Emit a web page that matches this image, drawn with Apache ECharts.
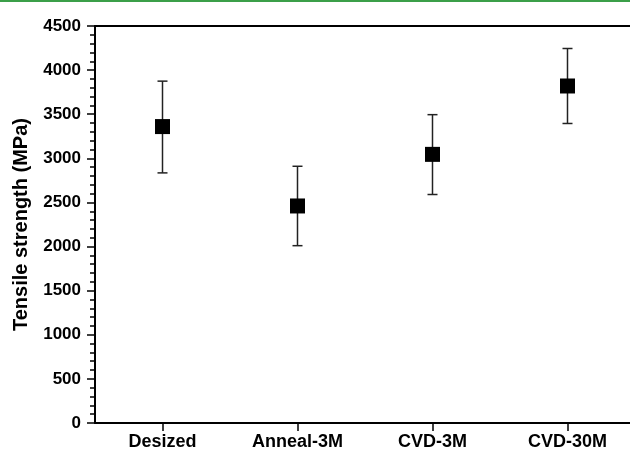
<!DOCTYPE html>
<html>
<head>
<meta charset="utf-8">
<script src="https://cdn.jsdelivr.net/npm/echarts@6/dist/echarts.min.js"></script>
<style>
html,body{margin:0;padding:0;background:#fff;}
#main{width:630px;height:451px;}
</style>
</head>
<body>
<div id="main"></div>
<script>
// 拉伸强度数据
var categories = ['Desized', 'Anneal-3M', 'CVD-3M', 'CVD-30M'];
var means = [3360, 2460, 3045, 3820];
var upper = [3875, 2910, 3495, 4245];
var lower = [2835, 2010, 2590, 3395];
var yTicks = [0, 500, 1000, 1500, 2000, 2500, 3000, 3500, 4000, 4500];

var pos = categories.map(function (c, i) { return i + 1; });
var pointData = pos.map(function (x, i) { return [x, means[i]]; });
var errData = pos.map(function (x, i) { return [x, lower[i], upper[i]]; });

var font = 'Liberation Sans, Arial, sans-serif';
var chart = echarts.init(document.getElementById('main'));
var option = {
    animation: false,
    graphic: [{
        type: 'rect',
        shape: { x: 0, y: 0, width: 630, height: 2 },
        style: { fill: '#3b9f49' }
    }],
    grid: {
        left: 95,
        right: 0,
        top: 26,
        bottom: 28
    },
    xAxis: [{
        type: 'value',
        min: 0.5,
        max: 4.463,
        splitLine: { show: false },
        axisLine: { lineStyle: { color: '#000', width: 2 } },
        axisTick: {
            customValues: pos,
            length: 8,
            lineStyle: { color: '#000', width: 1.5 }
        },
        axisLabel: {
            customValues: pos,
            margin: 10,
            color: '#000',
            fontFamily: font,
            fontWeight: 'bold',
            fontSize: 18,
            formatter: function (v) { return categories[Math.round(v) - 1] || ''; }
        }
    }, {
        // 顶部边框
        type: 'value',
        position: 'top',
        min: 0.5,
        max: 4.463,
        splitLine: { show: false },
        axisLine: { lineStyle: { color: '#000', width: 2 } },
        axisTick: { show: false },
        axisLabel: { show: false }
    }],
    yAxis: {
        type: 'value',
        min: yTicks[0],
        max: yTicks[yTicks.length - 1],
        interval: 500,
        name: 'Tensile strength (MPa)',
        nameLocation: 'middle',
        nameGap: 64,
        nameTextStyle: {
            color: '#000',
            fontFamily: font,
            fontWeight: 'bold',
            fontSize: 20
        },
        splitLine: { show: false },
        axisLine: { lineStyle: { color: '#000', width: 2 } },
        axisTick: { length: 8, lineStyle: { color: '#000', width: 1.5 } },
        minorTick: { show: true, splitNumber: 5, length: 5, lineStyle: { color: '#000', width: 1.5 } },
        axisLabel: {
            margin: 14,
            color: '#000',
            fontFamily: font,
            fontWeight: 'bold',
            fontSize: 17,
            formatter: function (v) { return String(v); }
        }
    },
    series: [{
        type: 'custom',
        data: errData,
        renderItem: function (params, api) {
            var x = api.value(0);
            var lo = api.coord([x, api.value(1)]);
            var hi = api.coord([x, api.value(2)]);
            var w = 5;
            var st = { stroke: '#222', lineWidth: 1.5 };
            return {
                type: 'group',
                children: [
                    { type: 'line', shape: { x1: lo[0], y1: lo[1], x2: hi[0], y2: hi[1] }, style: st },
                    { type: 'line', shape: { x1: hi[0] - w, y1: hi[1], x2: hi[0] + w, y2: hi[1] }, style: st },
                    { type: 'line', shape: { x1: lo[0] - w, y1: lo[1], x2: lo[0] + w, y2: lo[1] }, style: st }
                ]
            };
        },
        z: 1
    }, {
        type: 'scatter',
        data: pointData,
        symbol: 'rect',
        symbolSize: 15,
        itemStyle: { color: '#000', opacity: 1 },
        z: 2
    }]
};
chart.setOption(option);
</script>
</body>
</html>
